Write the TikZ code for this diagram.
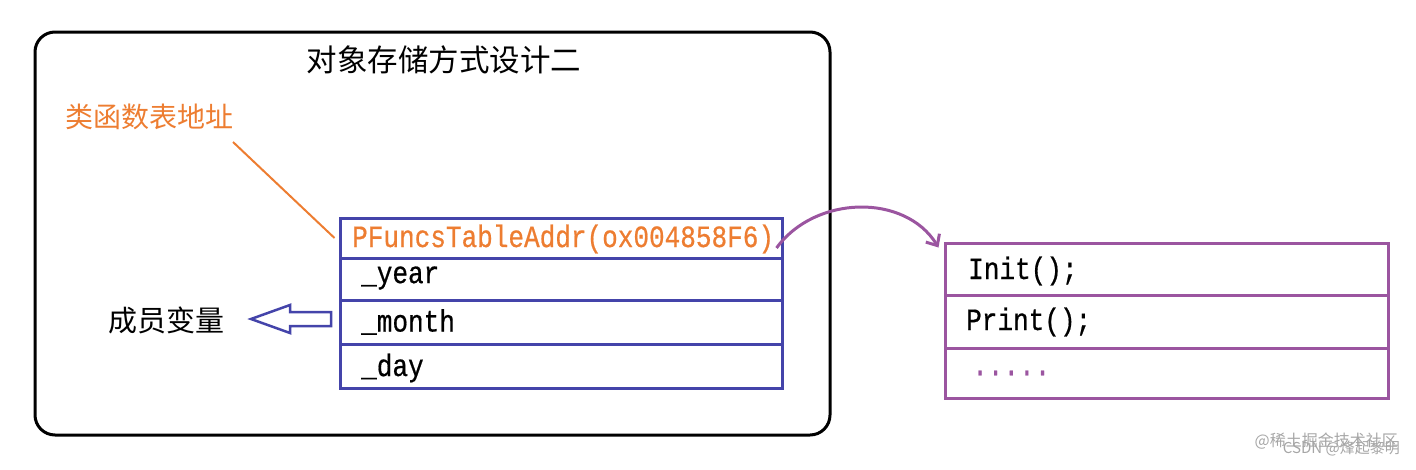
\documentclass[tikz,border=0pt]{standalone}
\usepackage{fontspec}
\newfontfamily\cjk{Noto Sans CJK SC}
\newfontfamily\mono[FakeStretch=0.84,FakeBold=0.6]{Liberation Mono}
\usetikzlibrary{arrows.meta}
\definecolor{tblblue}{RGB}{68,68,170}
\definecolor{fnpurple}{RGB}{155,85,160}
\definecolor{lblorange}{RGB}{237,125,49}
\begin{document}
\begin{tikzpicture}[x=1pt,y=-1pt,
  rowbox/.style={draw=tblblue,line width=3pt,minimum width=442pt,inner sep=0pt},
  fnbox/.style={draw=fnpurple,line width=3pt,minimum width=443pt,inner sep=0pt},
  codetext/.style={anchor=west,inner sep=0pt,font=\mono\fontsize{31}{31}\selectfont},
  cjktext/.style={inner sep=0pt,font=\cjk\fontsize{28}{28}\selectfont}]
\useasboundingbox (0,0) rectangle (1416,469);
% outer frame
\node[draw=black,line width=3pt,rounded corners=20pt,minimum width=795pt,minimum height=403pt,inner sep=0pt] (frame) at (432.5,233.5) {};
\node[cjktext,font=\cjk\fontsize{30.5}{30.5}\selectfont] (title) at (444,60) {对象存储方式设计二};
\node[cjktext,anchor=west,text=lblorange] (lbl) at (65,117) {类函数表地址};
% object table
\node[rowbox,minimum height=40pt] (r1) at (561,238) {};
\node[rowbox,minimum height=42pt] (r2) at (561,279) {};
\node[rowbox,minimum height=44pt] (r3) at (561,322) {};
\node[rowbox,minimum height=44pt] (r4) at (561,366) {};
\node[codetext,text=lblorange] (t1) at (352,239) {PFuncsTableAddr(ox004858F6)};
\node[codetext] (t2) at (361,278) {\_year};
\node[codetext] (t3) at (361,322) {\_month};
\node[codetext] (t4) at (361,368) {\_day};
% orange pointer line
\coordinate (ostart) at (233,142);
\draw[lblorange,line width=2pt] (ostart) -- ([xshift=-4pt]r1.west);
% member variable arrow
\node[cjktext,anchor=west,font=\cjk\fontsize{29}{29}\selectfont] (mem) at (108,320) {成员变量};
\draw[tblblue,line width=2.5pt,line join=miter] (331,312) -- (290,312) -- (290,305) -- (251,319) -- (290,333) -- (290,326) -- (331,326) -- cycle;
% function table
\node[fnbox,minimum height=52pt] (f1) at (1166.5,269) {};
\node[fnbox,minimum height=53pt] (f2) at (1166.5,321.5) {};
\node[fnbox,minimum height=50pt] (f3) at (1166.5,373) {};
\node[codetext] (g1) at (968,271) {Init();};
\node[codetext] (g2) at (966,322) {Print();};
\node[codetext,text=fnpurple] (g3) at (972,373) {.....};
% pointer arrow
\draw[fnpurple,line width=3pt,-{Straight Barb[length=9pt,width=16pt]}] ([xshift=-7pt,yshift=-10pt]r1.east) .. controls (815,195) and (905,193) .. ([shift={(-5pt,-6pt)}]f1.north west);
% watermark
\node[inner sep=0pt,anchor=east,text=black!35,font=\cjk\fontsize{16}{16}\selectfont] (wm1) at (1398,441) {@稀土掘金技术社区};
\node[inner sep=0pt,anchor=east,text=black!35,font=\cjk\fontsize{15}{15}\selectfont] (wm2) at (1400,448) {CSDN @烽起黎明};
\end{tikzpicture}
\end{document}
